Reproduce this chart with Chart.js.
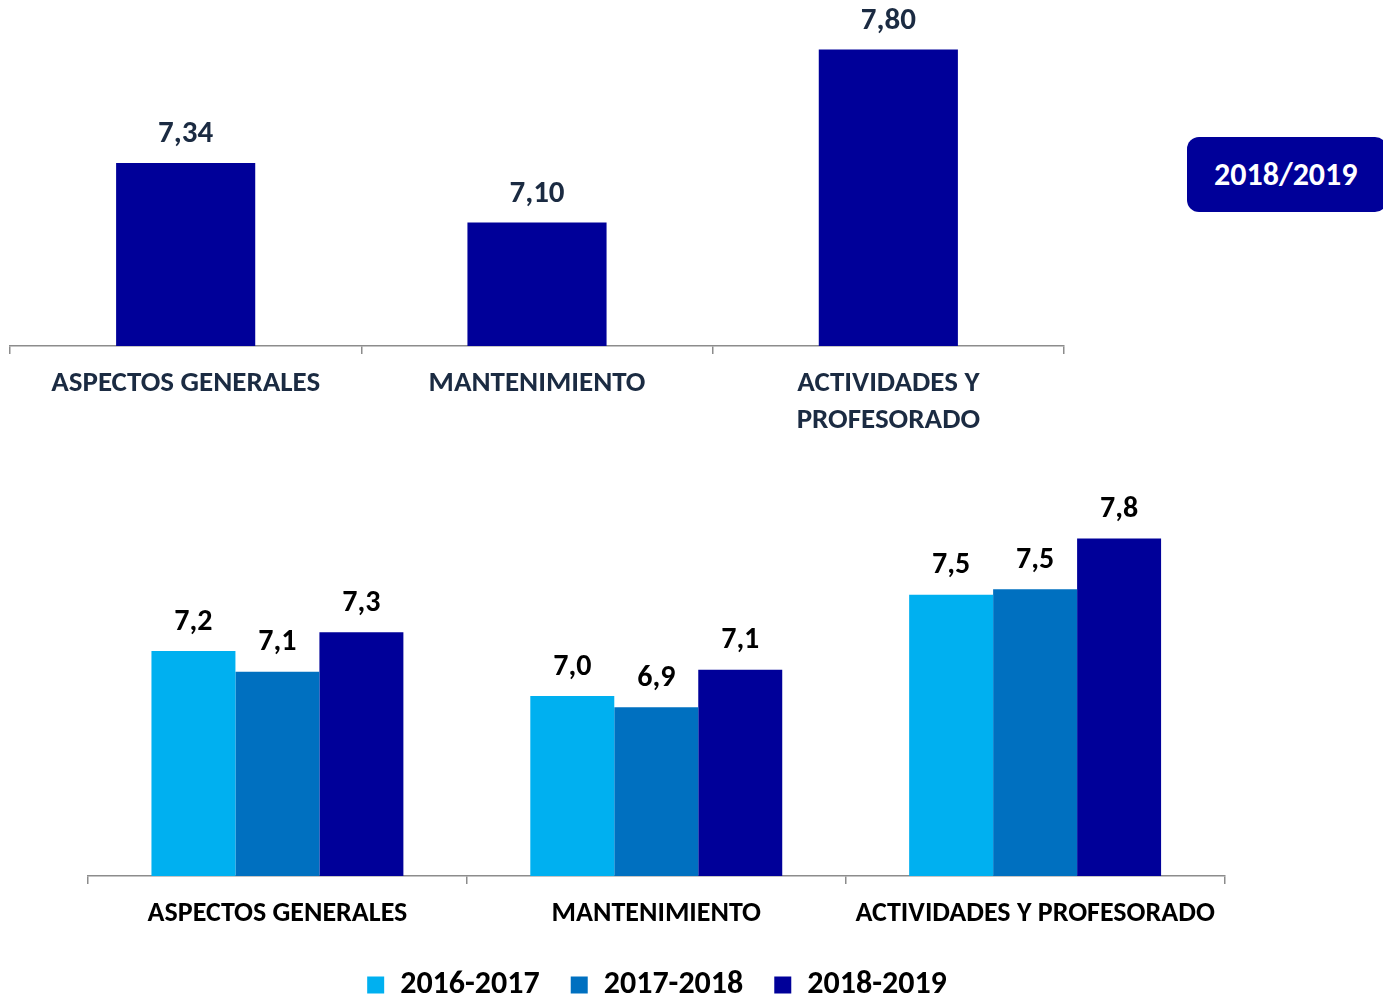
<!DOCTYPE html>
<html>
<head>
<meta charset="utf-8">
<script src="https://cdn.jsdelivr.net/npm/chart.js@4.4.1/dist/chart.umd.min.js"></script>
<style>
  body { margin: 0; background: #fff; width: 1383px; height: 995px; position: relative; overflow: hidden; }
  .box { position: absolute; }
  #badge {
    position: absolute; left: 1187px; top: 137px; width: 200px; height: 75px;
    background: #000099; border-radius: 12px; color: #fff;
    font: bold 32px Carlito, Lato, sans-serif; line-height: 75px;
    padding-left: 27px; box-sizing: border-box;
  }
</style>
</head>
<body>
<div class="box" style="left:9px; top:0; width:1056px; height:440px;"><canvas id="topChart"></canvas></div>
<div id="badge">2018/2019</div>
<div class="box" style="left:87px; top:470px; width:1140px; height:541px;"><canvas id="bottomChart"></canvas></div>
<script>
// Data
const topLabels = ['ASPECTOS GENERALES', 'MANTENIMIENTO', ['ACTIVIDADES Y', 'PROFESORADO']];
const topValues = [7.34, 7.10, 7.80];

const bottomLabels = ['ASPECTOS GENERALES', 'MANTENIMIENTO', 'ACTIVIDADES Y PROFESORADO'];
const seriesNames = ['2016-2017', '2017-2018', '2018-2019'];
const values1617 = [7.20, 6.96, 7.50];
const values1718 = [7.09, 6.90, 7.53];
const values1819 = [7.30, 7.10, 7.80];

const fontFamily = 'Carlito, Lato, sans-serif';
const axisGray = '#8c8c8c';

// Value labels above each bar
const valueLabels = {
  id: 'valueLabels',
  afterDatasetsDraw(chart, args, opts) {
    const ctx = chart.ctx;
    ctx.save();
    ctx.font = `bold ${opts.size}px ${fontFamily}`;
    ctx.fillStyle = opts.color;
    ctx.textAlign = 'center';
    ctx.textBaseline = 'bottom';
    chart.data.datasets.forEach((ds, i) => {
      chart.getDatasetMeta(i).data.forEach((bar, j) => {
        const txt = ds.data[j].toFixed(opts.decimals).replace('.', ',');
        ctx.fillText(txt, bar.x, bar.y - opts.gap);
      });
    });
    ctx.restore();
  }
};

function xAxis(size, color, height, padding) {
  return {
    offset: true,
    grid: { offset: true, drawOnChartArea: false, drawTicks: true, tickLength: 8, color: axisGray, lineWidth: 1.5 },
    border: { display: true, color: axisGray, width: 1.5 },
    ticks: { color: color, padding: padding, font: { family: fontFamily, size: size, weight: 'bold', lineHeight: 1.25 }, maxRotation: 0, autoSkip: false },
    afterFit: (s) => { s.height = height; }
  };
}

// *Top chart* 2018/2019
new Chart(document.getElementById('topChart'), {
  type: 'bar',
  data: {
    labels: topLabels,
    datasets: [{ data: topValues, backgroundColor: '#000099', categoryPercentage: 0.396, barPercentage: 1 }]
  },
  options: {
    responsive: true, maintainAspectRatio: false, animation: false,
    layout: { padding: { left: 1, right: 1, top: 0, bottom: 0 } },
    plugins: {
      legend: { display: false }, tooltip: { enabled: false },
      valueLabels: { size: 31, color: '#1b2b42', decimals: 2, gap: 13 }
    },
    scales: {
      x: xAxis(29, '#1b2b42', 94, 12),
      y: { display: false, min: 6.6, max: 8.0 }
    }
  },
  plugins: [valueLabels]
});

// *Bottom chart* comparison by year
new Chart(document.getElementById('bottomChart'), {
  type: 'bar',
  data: {
    labels: bottomLabels,
    datasets: [
      { label: seriesNames[0], data: values1617, backgroundColor: '#00B0F0' },
      { label: seriesNames[1], data: values1718, backgroundColor: '#0070C0' },
      { label: seriesNames[2], data: values1819, backgroundColor: '#000099' }
    ]
  },
  options: {
    responsive: true, maintainAspectRatio: false, animation: false,
    datasets: { bar: { categoryPercentage: 0.665, barPercentage: 1 } },
    layout: { padding: { left: 1, right: 1, top: 31, bottom: 0 } },
    plugins: {
      tooltip: { enabled: false },
      legend: {
        position: 'bottom',
        labels: { boxWidth: 17, boxHeight: 17, padding: 31, color: '#000', font: { family: fontFamily, size: 32, weight: 'bold' } }
      },
      valueLabels: { size: 30, color: '#000', decimals: 1, gap: 14 }
    },
    scales: {
      x: xAxis(28, '#000', 62, 12),
      y: { display: false, min: 6.0, max: 8.0 }
    }
  },
  plugins: [valueLabels]
});
</script>
</body>
</html>
